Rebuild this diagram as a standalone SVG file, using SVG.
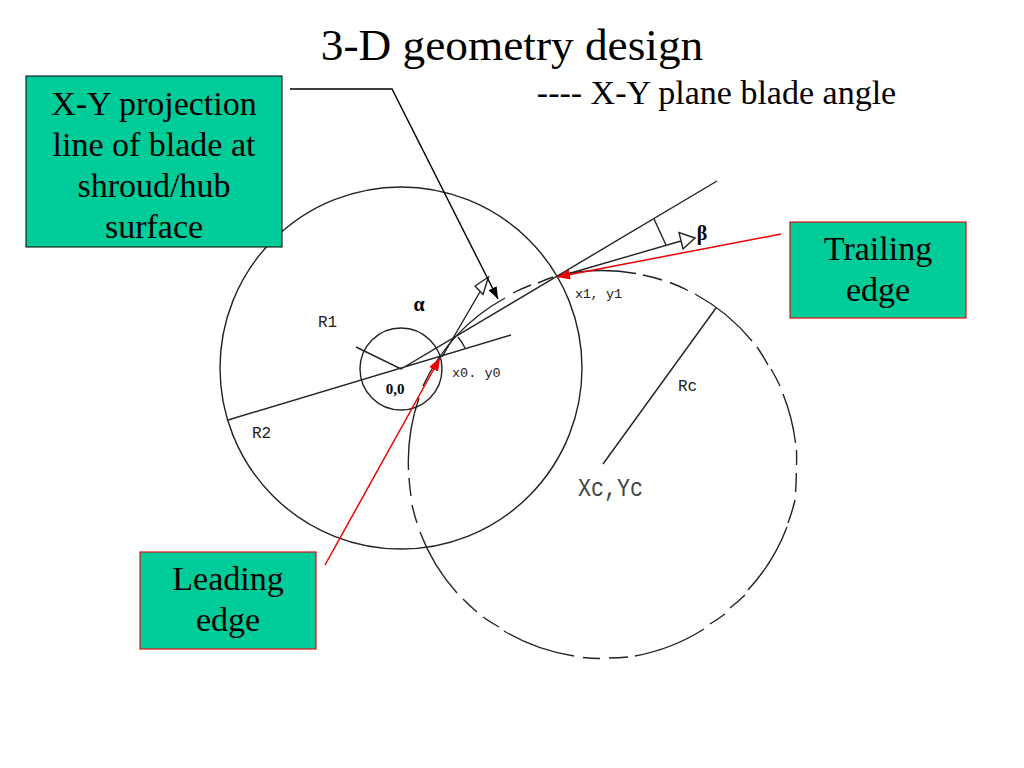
<svg xmlns="http://www.w3.org/2000/svg" width="1024" height="768" viewBox="0 0 1024 768">
<style>
.t{font-family:"Liberation Serif","Times New Roman",serif;fill:#000;text-anchor:middle}
.lb{font-size:34px}
.m{font-family:"Liberation Mono",monospace;font-size:13.5px;fill:#222}
.r{font-family:"Liberation Mono",monospace;font-size:16px;fill:#222}
.g{fill:none;stroke:#222;stroke-width:1.4}
.tealk{fill:#00cc99;stroke:#000;stroke-width:1}
.tealr{fill:#00cc99;stroke:#e01010;stroke-width:1.2}
.red{stroke:#f00000;stroke-width:1.5;fill:none}
</style>
<defs>
<marker id="rh" markerUnits="userSpaceOnUse" markerWidth="14" markerHeight="12" refX="13" refY="5" orient="auto"><path d="M0 0L13 5L0 10Z" fill="#f00000"/></marker>
<marker id="kh" markerUnits="userSpaceOnUse" markerWidth="14" markerHeight="12" refX="12" refY="4.5" orient="auto"><path d="M0 0L12 4.5L0 9Z" fill="#000"/></marker>
</defs>
<rect width="1024" height="768" fill="#fff"/>
<g id="title">
<text class="t" x="512" y="60" font-size="45.3">3-D geometry design</text>
<text class="t" x="716.5" y="104" font-size="34">---- X-Y plane blade angle</text>
</g>
<g id="geometry">
<circle class="g" cx="401" cy="368" r="181"/>
<circle class="g" cx="401" cy="369" r="41"/>
<path class="g" d="M559 275.500A194 194 0 0 1 636 273.500M643 275A194 194 0 0 1 662 280M670 282.500A194 194 0 0 1 688 290.500M695 294A194 194 0 0 1 752 341M757 347A194 194 0 0 1 768 365M771 369A194 194 0 0 1 780 386M783 394A194 194 0 0 1 795.500 443M796.500 450A194 194 0 0 1 796.500 465M796.300 473A194 194 0 0 1 795.500 492M795 500A194 194 0 0 1 788 523M787 527A194 194 0 0 1 748 590M745 595A194 194 0 0 1 730 608M725 614A194 194 0 0 1 710 624M704 629A194 194 0 0 1 635 656M628 657A194 194 0 0 1 609 658M600 658.500A194 194 0 0 1 583 657.500M574 656A194 194 0 0 1 504 631M499 627A194 194 0 0 1 483 617M477 612A194 194 0 0 1 463 599M457 593A194 194 0 0 1 420 532M417 523A194 194 0 0 1 412 505M411 496A194 194 0 0 1 409 478M408.500 470A194 194 0 0 1 419 398M423 386A194 194 0 0 1 505 298M513 293A194 194 0 0 1 531 285M538 283A194 194 0 0 1 553 277"/>
<path class="g" d="M228 420L511 335M356 347L401 369L717 181M557 277L681 241M442 357L484 285M716 308L603 464"/>
<path class="g" d="M654 219Q660 232 666 245M458 337Q462 342 465 348"/>
<path d="M695 238L679 232.500L683 249Z" fill="#fff" stroke="#222" stroke-width="1.4"/>
<path d="M488.500 277L475 286L483 294.500Z" fill="#fff" stroke="#222" stroke-width="1.4"/>
</g>
<g id="connectors">
<path d="M290 89H392L498 299" fill="none" stroke="#000" stroke-width="1.4" marker-end="url(#kh)"/>
<path class="red" d="M781 234L557 277" marker-end="url(#rh)"/>
<path class="red" d="M325 565L440 358" marker-end="url(#rh)"/>
</g>
<g id="labels">
<text class="r" x="318" y="327">R1</text>
<text class="r" x="252" y="438">R2</text>
<text class="m" x="452" y="377">x0. y0</text>
<text class="m" x="575" y="298" textLength="47">x1, y1</text>
<text class="r" x="678" y="391">Rc</text>
<text x="578" y="496" font-family="'Liberation Mono',monospace" font-size="25" fill="#444" textLength="65" lengthAdjust="spacingAndGlyphs">Xc,Yc</text>
<text class="t" x="395" y="394" font-size="15" font-weight="bold">0,0</text>
<text class="t" x="419" y="311" font-size="20" font-weight="bold">α</text>
<text class="t" x="702" y="240" font-size="20" font-weight="bold">β</text>
</g>
<g id="projection-box">
<rect class="tealk" x="26" y="76" width="256" height="171"/>
<text class="t lb" x="154" y="115">X-Y projection</text>
<text class="t lb" x="154" y="156">line of blade at</text>
<text class="t lb" x="154" y="197">shroud/hub</text>
<text class="t lb" x="154" y="238">surface</text>
</g>
<g id="trailing-box">
<rect class="tealr" x="790" y="222" width="176" height="96"/>
<text class="t lb" x="878" y="260">Trailing</text>
<text class="t lb" x="878" y="301">edge</text>
</g>
<g id="leading-box">
<rect class="tealr" x="140" y="552" width="176" height="97"/>
<text class="t lb" x="228" y="590">Leading</text>
<text class="t lb" x="228" y="631">edge</text>
</g>
</svg>
